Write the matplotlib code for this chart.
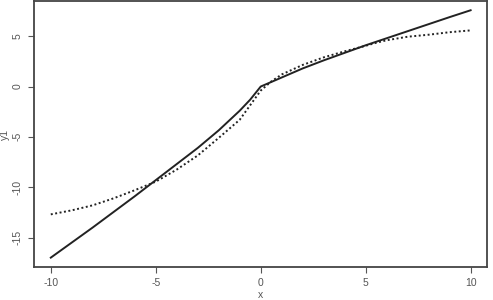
import numpy as np
import matplotlib
matplotlib.use("Agg")
import matplotlib.pyplot as plt

# values
x = [-10, -9, -8, -7, -6, -5, -4, -3, -2, -1, -0.5, 0,
     0.5, 1, 2, 3, 4, 5, 5.5, 6, 7, 8, 9, 10]
y_solid = [-17.0, -15.5, -14.0, -12.45, -10.9, -9.3, -7.7, -6.1, -4.35, -2.4, -1.3, 0.0,
           0.45, 0.9, 1.8, 2.6, 3.35, 4.1, 4.45, 4.8, 5.5, 6.2, 6.9, 7.58]
y_dotted = [-12.7, -12.3, -11.8, -11.1, -10.3, -9.45, -8.25, -6.85, -5.1, -3.3, -1.85, -0.4,
            0.5, 1.2, 2.15, 2.9, 3.5, 4.05, 4.35, 4.6, 4.95, 5.15, 5.4, 5.58]
xticks = [-10, -5, 0, 5, 10]
yticks = [-15, -10, -5, 0, 5]

plt.rcParams['font.family'] = ['Liberation Sans', 'DejaVu Sans']
grey = '#555555'

fig = plt.figure(figsize=(4.93, 3.0), dpi=100)
ax = fig.add_axes([34/493, 33/300, (487-34)/493, (299-33)/300])

ax.plot(x, y_solid, color='#222222', lw=1.4)
ax.plot(x, y_dotted, color='#222222', lw=1.4, linestyle=(0, (1, 1.3)))

ax.set_xlim(-10.8, 10.78)
ax.set_ylim(-17.93, 8.5)
ax.set_xticks(xticks)
ax.set_yticks(yticks)
ax.set_xticklabels([str(t) for t in xticks])
ax.set_yticklabels([str(t) for t in yticks], rotation=90, va='center')
ax.tick_params(colors=grey, labelsize=7.5, length=4, width=0.8, pad=4)
for s in ax.spines.values():
    s.set_color('#444444')
    s.set_linewidth(1.3)

ax.set_xlabel('x', color=grey, fontsize=7.5, labelpad=1)
ax.set_ylabel('y1', color=grey, fontsize=7.5, labelpad=2)

plt.savefig('out.png', dpi=100)
